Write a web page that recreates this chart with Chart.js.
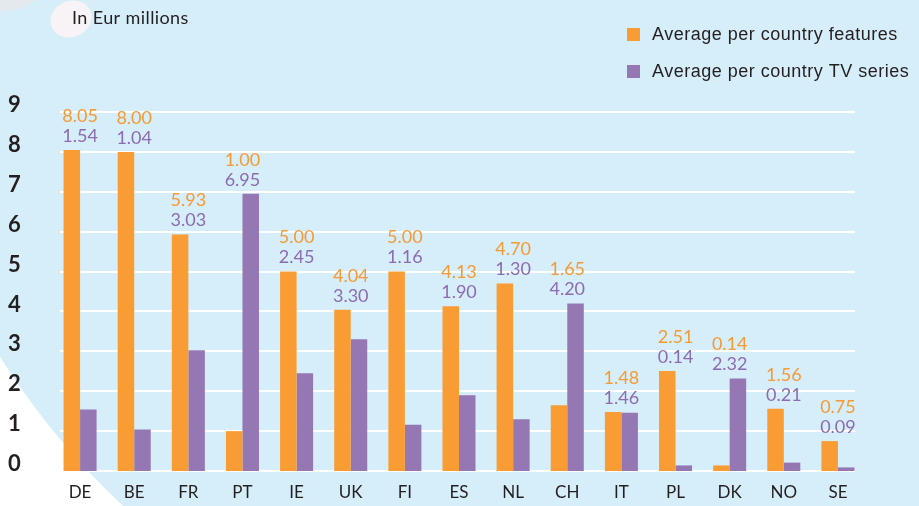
<!DOCTYPE html>
<html>
<head>
<meta charset="utf-8">
<script src="https://cdn.jsdelivr.net/npm/chart.js@4.4.1/dist/chart.umd.min.js"></script>
<style>
  html, body { margin: 0; padding: 0; background: #fff; }
  #wrap { width: 919px; height: 506px; }
</style>
</head>
<body>
<div id="wrap"><canvas id="chart" width="919" height="506"></canvas></div>
<script>
// Average production budgets, in EUR millions
const countries = ['DE', 'BE', 'FR', 'PT', 'IE', 'UK', 'FI', 'ES', 'NL', 'CH', 'IT', 'PL', 'DK', 'NO', 'SE'];
const featuresAvg = [8.05, 8.00, 5.93, 1.00, 5.00, 4.04, 5.00, 4.13, 4.70, 1.65, 1.48, 2.51, 0.14, 1.56, 0.75];
const tvSeriesAvg = [1.54, 1.04, 3.03, 6.95, 2.45, 3.30, 1.16, 1.90, 1.30, 4.20, 1.46, 0.14, 2.32, 0.21, 0.09];
const seriesLabels = ['Average per country features', 'Average per country TV series'];
const unitNote = 'In Eur millions';
const yMax = 9;

const ORANGE = '#f89c33';
const PURPLE = '#9577b4';
const ORANGE_TXT = '#f69a35';
const PURPLE_TXT = '#8c6bb1';
const INK = '#231f20';

// light blue disc, pale spots at the top left
const backdrop = {
    id: 'backdrop',
    beforeDraw(chart) {
        const { ctx, width, height } = chart;
        ctx.save();
        ctx.fillStyle = '#ffffff';
        ctx.fillRect(0, 0, width, height);
        ctx.fillStyle = '#d6eef9';
        ctx.beginPath();
        ctx.arc(637, -43, 752, 0, Math.PI * 2);
        ctx.fill();
        ctx.fillStyle = '#e4e9ed';
        ctx.beginPath();
        ctx.ellipse(0, -20, 47, 31, 0, 0, Math.PI * 2);
        ctx.fill();
        ctx.fillStyle = '#f8f3f6';
        ctx.beginPath();
        ctx.ellipse(71, 19, 21, 18, -0.4, 0, Math.PI * 2);
        ctx.fill();
        ctx.restore();
    }
};

// white horizontal rules, a bit shorter than the plot area
const rules = {
    id: 'rules',
    beforeDatasetsDraw(chart) {
        const { ctx, chartArea, scales } = chart;
        ctx.save();
        ctx.strokeStyle = '#ffffff';
        ctx.lineWidth = 2;
        for (let v = 0; v <= yMax; v++) {
            const y = Math.round(scales.y.getPixelForValue(v));
            ctx.beginPath();
            ctx.moveTo(chartArea.left + 7, y);
            ctx.lineTo(chartArea.right - 10, y);
            ctx.stroke();
        }
        ctx.restore();
    }
};

// two stacked value labels above each country pair
const valueLabels = {
    id: 'valueLabels',
    afterDatasetsDraw(chart) {
        const { ctx } = chart;
        const m0 = chart.getDatasetMeta(0);
        const m1 = chart.getDatasetMeta(1);
        ctx.save();
        ctx.font = '18px Lato';
        ctx.textAlign = 'center';
        ctx.textBaseline = 'middle';
        countries.forEach((c, i) => {
            const a = m0.data[i], b = m1.data[i];
            const cx = (a.x + b.x) / 2;
            const top = Math.min(a.y, b.y);
            ctx.fillStyle = PURPLE_TXT;
            ctx.fillText(tvSeriesAvg[i].toFixed(2), cx, top - 14);
            ctx.fillStyle = ORANGE_TXT;
            ctx.fillText(featuresAvg[i].toFixed(2), cx, top - 34);
        });
        ctx.restore();
    }
};

// unit note and legend
const headerBits = {
    id: 'headerBits',
    afterDraw(chart) {
        const { ctx } = chart;
        ctx.save();
        ctx.textBaseline = 'middle';
        ctx.textAlign = 'left';
        ctx.fillStyle = INK;
        ctx.font = '18px Lato';
        ctx.letterSpacing = '0.4px';
        ctx.fillText(unitNote, 72, 18);

        ctx.font = '18px "Liberation Sans"';
        ctx.letterSpacing = '0.5px';
        chart.data.datasets.forEach((ds, i) => {
            const y = 28 + i * 37;
            ctx.fillStyle = ds.backgroundColor;
            ctx.fillRect(627, y, 13, 13);
            ctx.fillStyle = INK;
            ctx.fillText(ds.label, 652, y + 7);
        });
        ctx.restore();
    }
};

new Chart(document.getElementById('chart'), {
    type: 'bar',
    data: {
        labels: countries,
        datasets: [
            { label: seriesLabels[0], data: featuresAvg, backgroundColor: ORANGE },
            { label: seriesLabels[1], data: tvSeriesAvg, backgroundColor: PURPLE }
        ]
    },
    options: {
        responsive: false,
        animation: false,
        categoryPercentage: 0.61,
        barPercentage: 1.0,
        layout: { padding: { top: 112, left: 8, right: 54, bottom: 0 } },
        plugins: {
            legend: { display: false },
            tooltip: { enabled: false }
        },
        scales: {
            x: {
                grid: { display: false, drawTicks: false },
                border: { display: false },
                ticks: { color: INK, font: { family: 'Lato', size: 17 }, padding: 11 },
                afterFit(scale) { scale.height = 35; }
            },
            y: {
                min: 0,
                max: yMax,
                grid: { display: false, drawTicks: false },
                border: { display: false },
                ticks: {
                    stepSize: 1,
                    color: INK,
                    font: { family: 'Lato', size: 22, weight: 'bold' },
                    padding: 0,
                    crossAlign: 'far',
                    labelOffset: -7
                },
                afterFit(scale) { scale.width = 45; }
            }
        }
    },
    plugins: [backdrop, rules, valueLabels, headerBits]
});
</script>
</body>
</html>
